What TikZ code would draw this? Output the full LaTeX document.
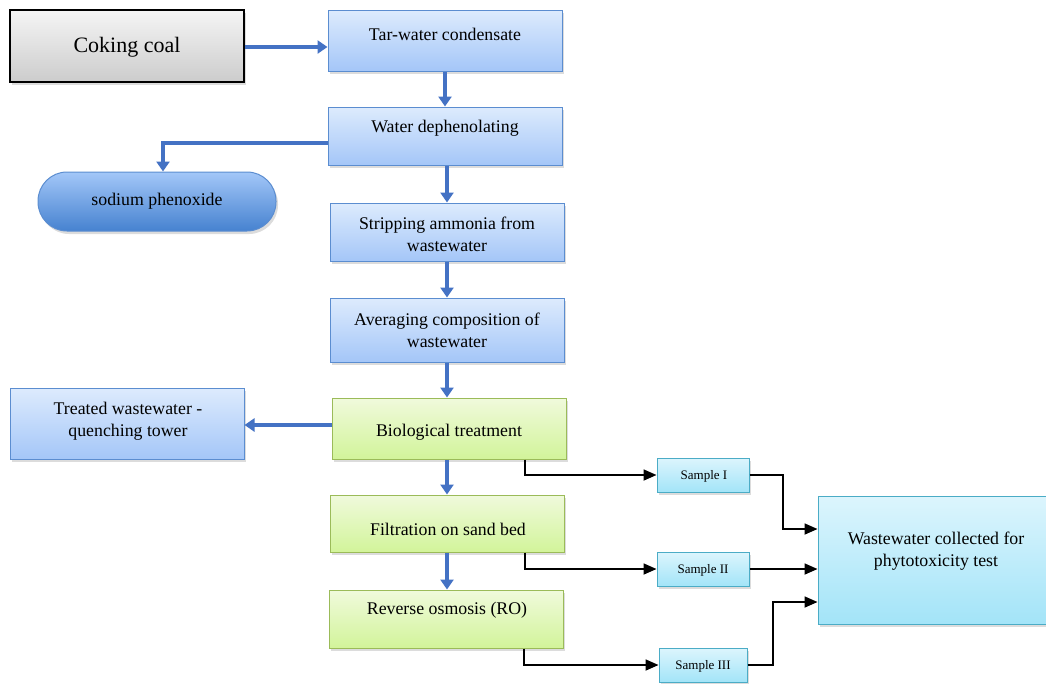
\documentclass[tikz,border=0pt]{standalone}
\usepackage{fontspec}
\setmainfont{Liberation Serif}
\usetikzlibrary{arrows.meta,shadows}
\definecolor{bluetop}{HTML}{DDEBFD}
\definecolor{bluebot}{HTML}{A4C6F8}
\definecolor{blueedge}{HTML}{5B8DD0}
\definecolor{greentop}{HTML}{F0FADC}
\definecolor{greenbot}{HTML}{D2F49A}
\definecolor{greenedge}{HTML}{9BBB59}
\definecolor{cyantop}{HTML}{DCF5FD}
\definecolor{cyanbot}{HTML}{A3E4F8}
\definecolor{cyanedge}{HTML}{4BACC6}
\definecolor{arrowblue}{HTML}{4472C4}
\definecolor{pilltop}{HTML}{A3C7F8}
\definecolor{pillbot}{HTML}{4682D0}
\tikzset{
  boxbase/.style={rectangle, inner sep=0pt, line width=1pt,
    drop shadow={shadow xshift=2pt, shadow yshift=-3pt, opacity=0.28}},
  bluebox/.style={boxbase, draw=blueedge, top color=bluetop, bottom color=bluebot},
  greenbox/.style={boxbase, draw=greenedge, top color=greentop, bottom color=greenbot},
  cyanbox/.style={boxbase, draw=cyanedge, top color=cyantop, bottom color=cyanbot},
  graybox/.style={boxbase, draw=black, line width=1.2pt, top color=gray!8, bottom color=gray!40},
  pill/.style={boxbase, draw=blueedge, top color=pilltop, bottom color=pillbot,
    rounded corners=29pt},
  txt/.style={inner sep=0pt, align=center, font=\fontsize{17.8}{22}\selectfont},
  smalltxt/.style={inner sep=0pt, align=center, font=\fontsize{13}{15}\selectfont},
  flow/.style={arrowblue, line width=4pt, -{Triangle[width=13pt,length=10pt]}},
  samp/.style={black, line width=1.8pt, -{Triangle[width=11pt,length=13pt]}},
}
\begin{document}
\begin{tikzpicture}[x=1pt,y=-1pt]
\useasboundingbox (0,0) rectangle (1046,683);
% boxes
\node[graybox, minimum width=234pt, minimum height=72pt] (coal) at (127,46) {};
\node[inner sep=0pt, font=\fontsize{22}{26}\selectfont] (coalt) at (127,47.5) {Coking coal};
\node[bluebox, minimum width=234pt, minimum height=61pt] (tar) at (445,40.5) {};
\node[txt] (tart) at (445,34.5) {Tar-water condensate};
\node[bluebox, minimum width=234pt, minimum height=58pt] (deph) at (445,136) {};
\node[txt] (depht) at (445,128.5) {Water dephenolating};
\node[pill, minimum width=238pt, minimum height=59pt] (sodium) at (157,201.5) {};
\node[txt] (sodiumt) at (157,201.5) {sodium phenoxide};
\node[bluebox, minimum width=234pt, minimum height=58pt] (strip) at (447,232) {};
\node[txt] (stript) at (447,234) {Stripping ammonia from\\wastewater};
\node[bluebox, minimum width=234pt, minimum height=64pt] (avg) at (447,330) {};
\node[txt] (avgt) at (447,330.5) {Averaging composition of\\wastewater};
\node[greenbox, minimum width=234pt, minimum height=61pt] (bio) at (449,428.5) {};
\node[txt] (biot) at (449,432.5) {Biological treatment};
\node[bluebox, minimum width=234pt, minimum height=71pt] (treat) at (127,423.5) {};
\node[txt] (treatt) at (128,421) {Treated wastewater -\\quenching tower};
\node[greenbox, minimum width=234pt, minimum height=57pt] (filt) at (447,523.5) {};
\node[txt] (filtt) at (448,529) {Filtration on sand bed};
\node[greenbox, minimum width=234pt, minimum height=58pt] (ro) at (446,619) {};
\node[txt] (rot) at (447,610.5) {Reverse osmosis (RO)};
\node[cyanbox, minimum width=92pt, minimum height=34pt] (s1) at (703,475) {};
\node[smalltxt] (s1t) at (704,476) {Sample I};
\node[cyanbox, minimum width=92pt, minimum height=34pt] (s2) at (703,569) {};
\node[smalltxt] (s2t) at (703,570) {Sample II};
\node[cyanbox, minimum width=88pt, minimum height=34pt] (s3) at (703,665) {};
\node[smalltxt] (s3t) at (703,666) {Sample III};
\node[cyanbox, minimum width=232pt, minimum height=128pt] (ww) at (934,560) {};
\node[txt] (wwt) at (936,551.5) {Wastewater collected for\\phytotoxicity test};
% blue flow arrows
\draw[flow] (coal.east |- 0,47) -- (tar.west |- 0,47);
\draw[flow] (tar.south) -- (deph.north);
\draw[flow] (deph.west |- 0,143) -| (sodium.north -| 163,0);
\draw[flow] (deph.south -| strip.north) -- (strip.north);
\draw[flow] (strip.south) -- (avg.north);
\draw[flow] (avg.south) -- (bio.north -| avg.south);
\draw[flow] (bio.west |- 0,425) -- (treat.east |- 0,425);
\draw[flow] (bio.south -| filt.north) -- (filt.north);
\draw[flow] (filt.south) -- (ro.north -| filt.south);
% sample arrows
\draw[samp] (bio.south -| 525,0) |- (s1.west);
\draw[samp] (filt.south -| 525,0) |- (s2.west);
\draw[samp] (ro.south -| 524,0) |- (s3.west);
\draw[samp] (s1.east) -| (783,529) -- (ww.west |- 0,529);
\draw[samp] (s2.east) -- (ww.west |- s2.east);
\draw[samp] (s3.east) -| (773,602) -- (ww.west |- 0,602);
\end{tikzpicture}
\end{document}
